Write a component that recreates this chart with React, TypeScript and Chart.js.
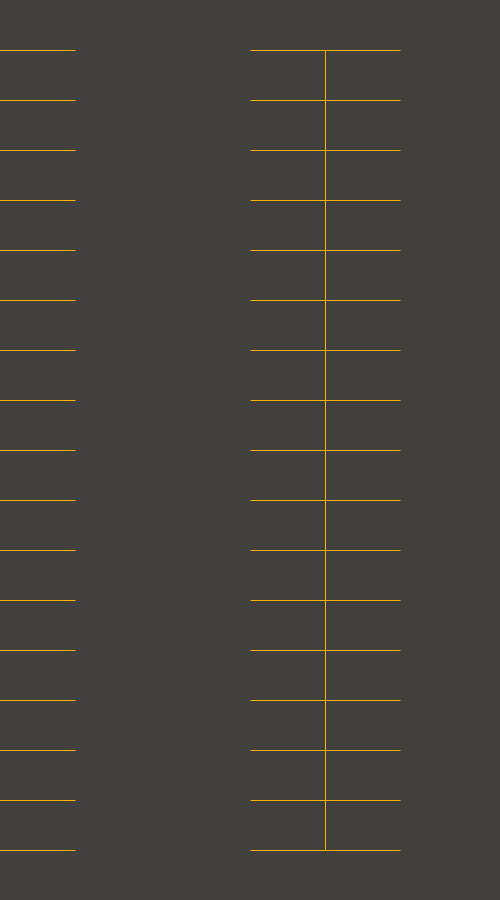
import React, { useEffect, useRef } from 'react';
import Chart from 'chart.js/auto';

// levels shown as horizontal ticks, bottom to top
const levels = [1, 2, 3, 4, 5, 6, 7, 8, 9, 10, 11, 12, 13, 14, 15, 16, 17];
// x position of each group
const groupA = 0;
const groupB = 6.5;

const ORANGE = '#ffb000';
const BG = '#42403c';

const bgPlugin = {
  id: 'bg',
  beforeDraw(chart: Chart) {
    const { ctx, width, height } = chart;
    ctx.save();
    ctx.fillStyle = BG;
    ctx.fillRect(0, 0, width, height);
    ctx.restore();
  },
};

const App: React.FC = () => {
  const canvasRef = useRef<HTMLCanvasElement>(null);
  const chartRef = useRef<Chart | null>(null);

  useEffect(() => {
    if (!canvasRef.current) return;
    if (chartRef.current) chartRef.current.destroy();

    chartRef.current = new Chart(canvasRef.current, {
      type: 'scatter',
      data: {
        datasets: [
          {
            label: 'A',
            data: levels.map(v => ({ x: groupA, y: v })),
            showLine: false,
            pointStyle: 'line',
            pointRadius: 75,
            pointBorderColor: ORANGE,
            pointBackgroundColor: ORANGE,
            pointBorderWidth: 1,
            borderColor: ORANGE,
            backgroundColor: ORANGE,
            clip: false,
          },
          {
            label: 'B',
            data: levels.map(v => ({ x: groupB, y: v })),
            showLine: true,
            borderColor: ORANGE,
            backgroundColor: ORANGE,
            borderWidth: 1,
            pointStyle: 'line',
            pointRadius: 75,
            pointBorderColor: ORANGE,
            pointBackgroundColor: ORANGE,
            pointBorderWidth: 1,
            clip: false,
          },
        ],
      },
      options: {
        responsive: false,
        animation: false,
        devicePixelRatio: 1,
        events: [],
        layout: { padding: 0, autoPadding: false },
        scales: {
          x: { type: 'linear', display: false, min: -0.01, max: 9.99 },
          y: { type: 'linear', display: false, min: 0.01, max: 18.01 },
        },
        plugins: {
          legend: { display: false },
          tooltip: { enabled: false },
        },
      },
      plugins: [bgPlugin],
    });

    return () => {
      if (chartRef.current) {
        chartRef.current.destroy();
        chartRef.current = null;
      }
    };
  }, []);

  return (
    <div style={{ position: 'fixed', left: 0, top: 0, width: 500, height: 900, background: BG }}>
      <canvas ref={canvasRef} width={500} height={900} style={{ display: 'block' }}></canvas>
    </div>
  );
};

export default App;
